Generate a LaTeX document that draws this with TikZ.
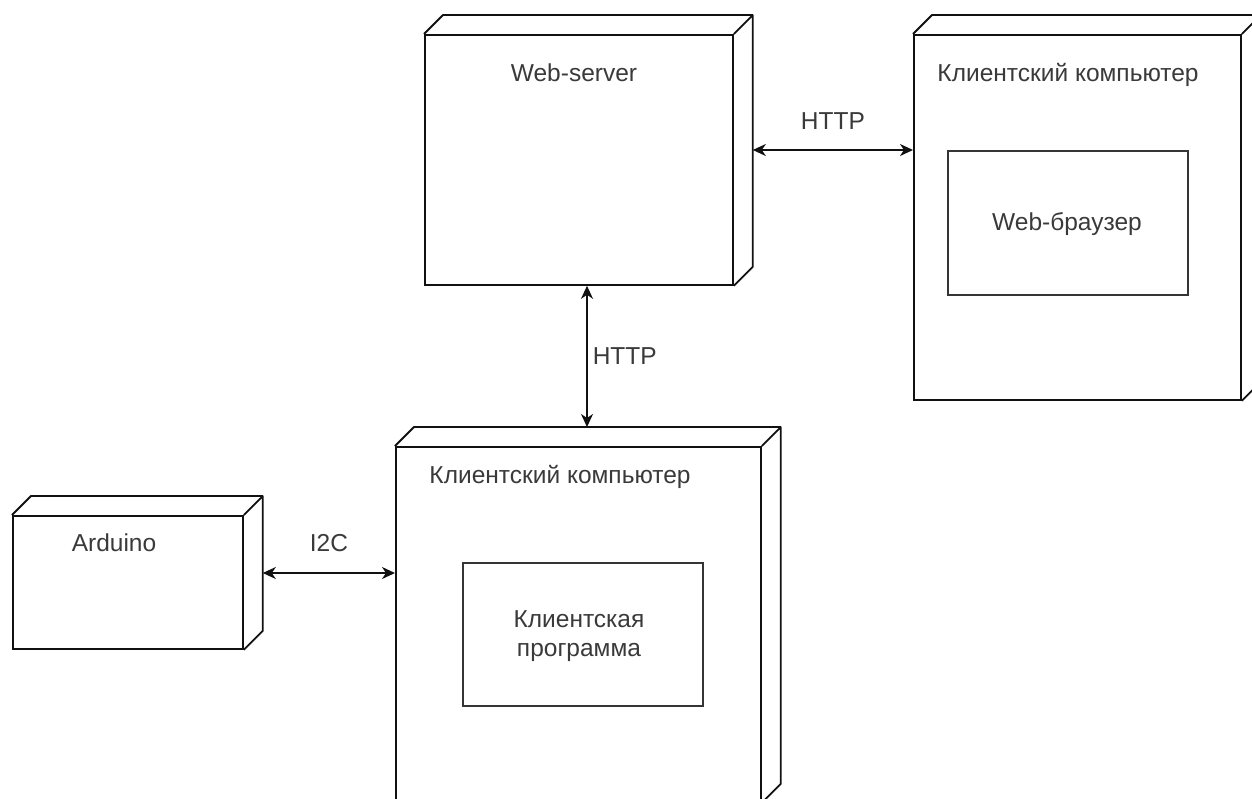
\documentclass[tikz,border=0pt]{standalone}
\usepackage{fontspec}
\setmainfont{Liberation Sans}
\usetikzlibrary{arrows.meta}
\definecolor{ink}{HTML}{111111}
\definecolor{txt}{HTML}{3A3A3A}
\tikzset{
  box/.style={draw=ink, line width=1.8pt, rectangle, inner sep=0pt, anchor=north west, fill=white},
  inner/.style={draw=ink!85, line width=1.6pt, rectangle, inner sep=0pt, anchor=north west},
  caption/.style={text=txt, font=\fontsize{24.5}{29}\selectfont, inner sep=0pt, align=center},
  link/.style={draw=ink, line width=1.6pt, >={Stealth[length=13pt,width=12pt,inset=4pt]}, <->},
}
% depth of the 3D node boxes
\newcommand{\boxdepth}{19pt}
\begin{document}
\begin{tikzpicture}[x=1pt,y=-1pt]
  \useasboundingbox (0,0) rectangle (1252,798);
  \clip (0,0) rectangle (1252,798);
  \fill[white] (0,0) rectangle (1252,798);

  % node boxes (front faces)
  \node[box, minimum width=308pt, minimum height=250pt] (ws) at (424,34) {};
  \node[box, minimum width=327pt, minimum height=365pt] (cc) at (913,34) {};
  \node[box, minimum width=365pt, minimum height=355pt] (pc) at (395,446) {};
  \node[box, minimum width=230pt, minimum height=133pt] (ard) at (12,515) {};

  % top and right faces of each box
  \foreach \n in {ws,cc,pc,ard}{
    \draw[ink, line width=1.8pt, line join=round]
      (\n.north west) -- ++(\boxdepth,\boxdepth)
      -- ([shift={(\boxdepth,\boxdepth)}]\n.north east)
      -- ([shift={(\boxdepth,\boxdepth)}]\n.south east)
      -- (\n.south east)
      (\n.north east) -- ([shift={(\boxdepth,\boxdepth)}]\n.north east);
  }

  % components inside the client computers
  \node[inner, minimum width=240pt, minimum height=144pt] (wb) at (947,150) {};
  \node[inner, minimum width=240pt, minimum height=143pt] (cp) at (462,562) {};

  % titles
  \node[caption] (wst) at (574,73) {Web-server};
  \node[caption] (cct) at (1068,75) {Клиентский компьютер};
  \node[caption] (pct) at (560,477) {Клиентский компьютер};
  \node[caption] (ardt) at (114,543) {Arduino};
  \node[caption] (wbt) at (1067,224) {Web-браузер};
  \node[caption] (cpt) at (579,636) {Клиентская\\программа};

  % anchor points of the connections
  \coordinate (wsR) at ([xshift=\boxdepth]ws.east);
  \coordinate (pcTop) at ([yshift=\boxdepth]pc.north);
  \coordinate (ardR) at ([xshift=\boxdepth]ard.east);
  \coordinate (vx) at (587,0);
  \coordinate (hy) at (0,150);
  \coordinate (iy) at (0,573);

  % connections
  \draw[link] (wsR |- hy) -- (cc.west |- hy)
    node[midway, caption, yshift=29pt] (h1) {HTTP};
  \draw[link] (ws.south -| vx) -- (pcTop -| vx)
    node[midway, caption, anchor=west, xshift=5pt] (h2) {HTTP};
  \draw[link] (ardR |- iy) -- (pc.west |- iy)
    node[midway, caption, yshift=30pt] (i2c) {I2C};
\end{tikzpicture}
\end{document}
